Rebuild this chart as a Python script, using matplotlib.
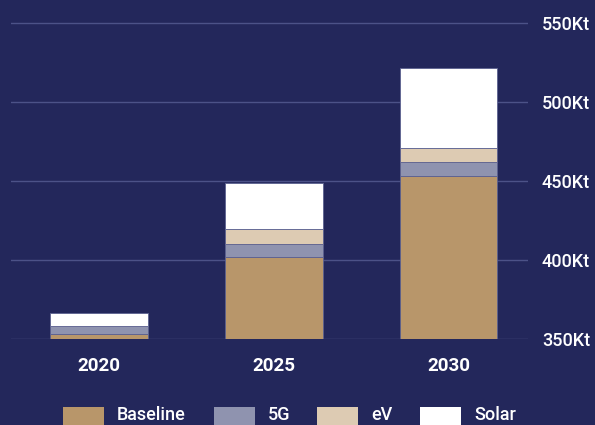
import matplotlib.pyplot as plt
from matplotlib.patches import Rectangle

years = ['2020', '2025', '2030']
baseline = [353, 402, 453]
g5 = [5, 8, 9]
ev = [0, 9.5, 9]
solar = [8.5, 29, 50.5]

series = ['Baseline', '5G', 'eV', 'Solar']
colors = ['#b8966a', '#8f93af', '#ddcbb3', '#ffffff']
yticks = [350, 400, 450, 500, 550]

bg = '#23275b'
plt.rcParams['font.family'] = ['Roboto', 'DejaVu Sans']

fig = plt.figure(figsize=(5.95, 4.25), dpi=100, facecolor=bg)
ax = fig.add_axes([11 / 595, 1 - 339 / 425, 517 / 595, 339 / 425])
ax.set_facecolor(bg)

x = range(len(years))
bottom = [0, 0, 0]
for vals, c in zip([baseline, g5, ev, solar], colors):
    ax.bar(x, vals, bottom=bottom, width=0.56, color=c,
           edgecolor='#5c6190', linewidth=0.6, zorder=3)
    bottom = [b + v for b, v in zip(bottom, vals)]

ax.set_ylim(350, 550 + 23 / 1.58)
ax.set_xlim(-0.504, 2.455)

# horizontal guides
for t in yticks:
    ax.axhline(t, color='#4c5288', linewidth=1.0, zorder=1)

ax.yaxis.tick_right()
ax.set_yticks(yticks)
ax.set_yticklabels([f'{t}Kt' for t in yticks], color='white', fontsize=13,
                   fontweight=500)
ax.tick_params(axis='y', length=0, pad=10)

ax.set_xticks(list(x))
ax.set_xticklabels(years, color='white', fontsize=13.5, fontweight='bold')
ax.tick_params(axis='x', length=0, pad=13)

for s in ax.spines.values():
    s.set_visible(False)

# legend row along the bottom edge
legend_x = [63, 214, 317, 420]
for x0, name, c in zip(legend_x, series, colors):
    fig.add_artist(Rectangle((x0 / 595, 0), 41 / 595, (425 - 407) / 425,
                             transform=fig.transFigure, facecolor=c,
                             edgecolor='none'))
    fig.text((x0 + 54) / 595, 1 - 414.7 / 425, name, color='white',
             fontsize=13, fontweight=500, va='center', ha='left')

fig.savefig('out.png', facecolor=bg)
